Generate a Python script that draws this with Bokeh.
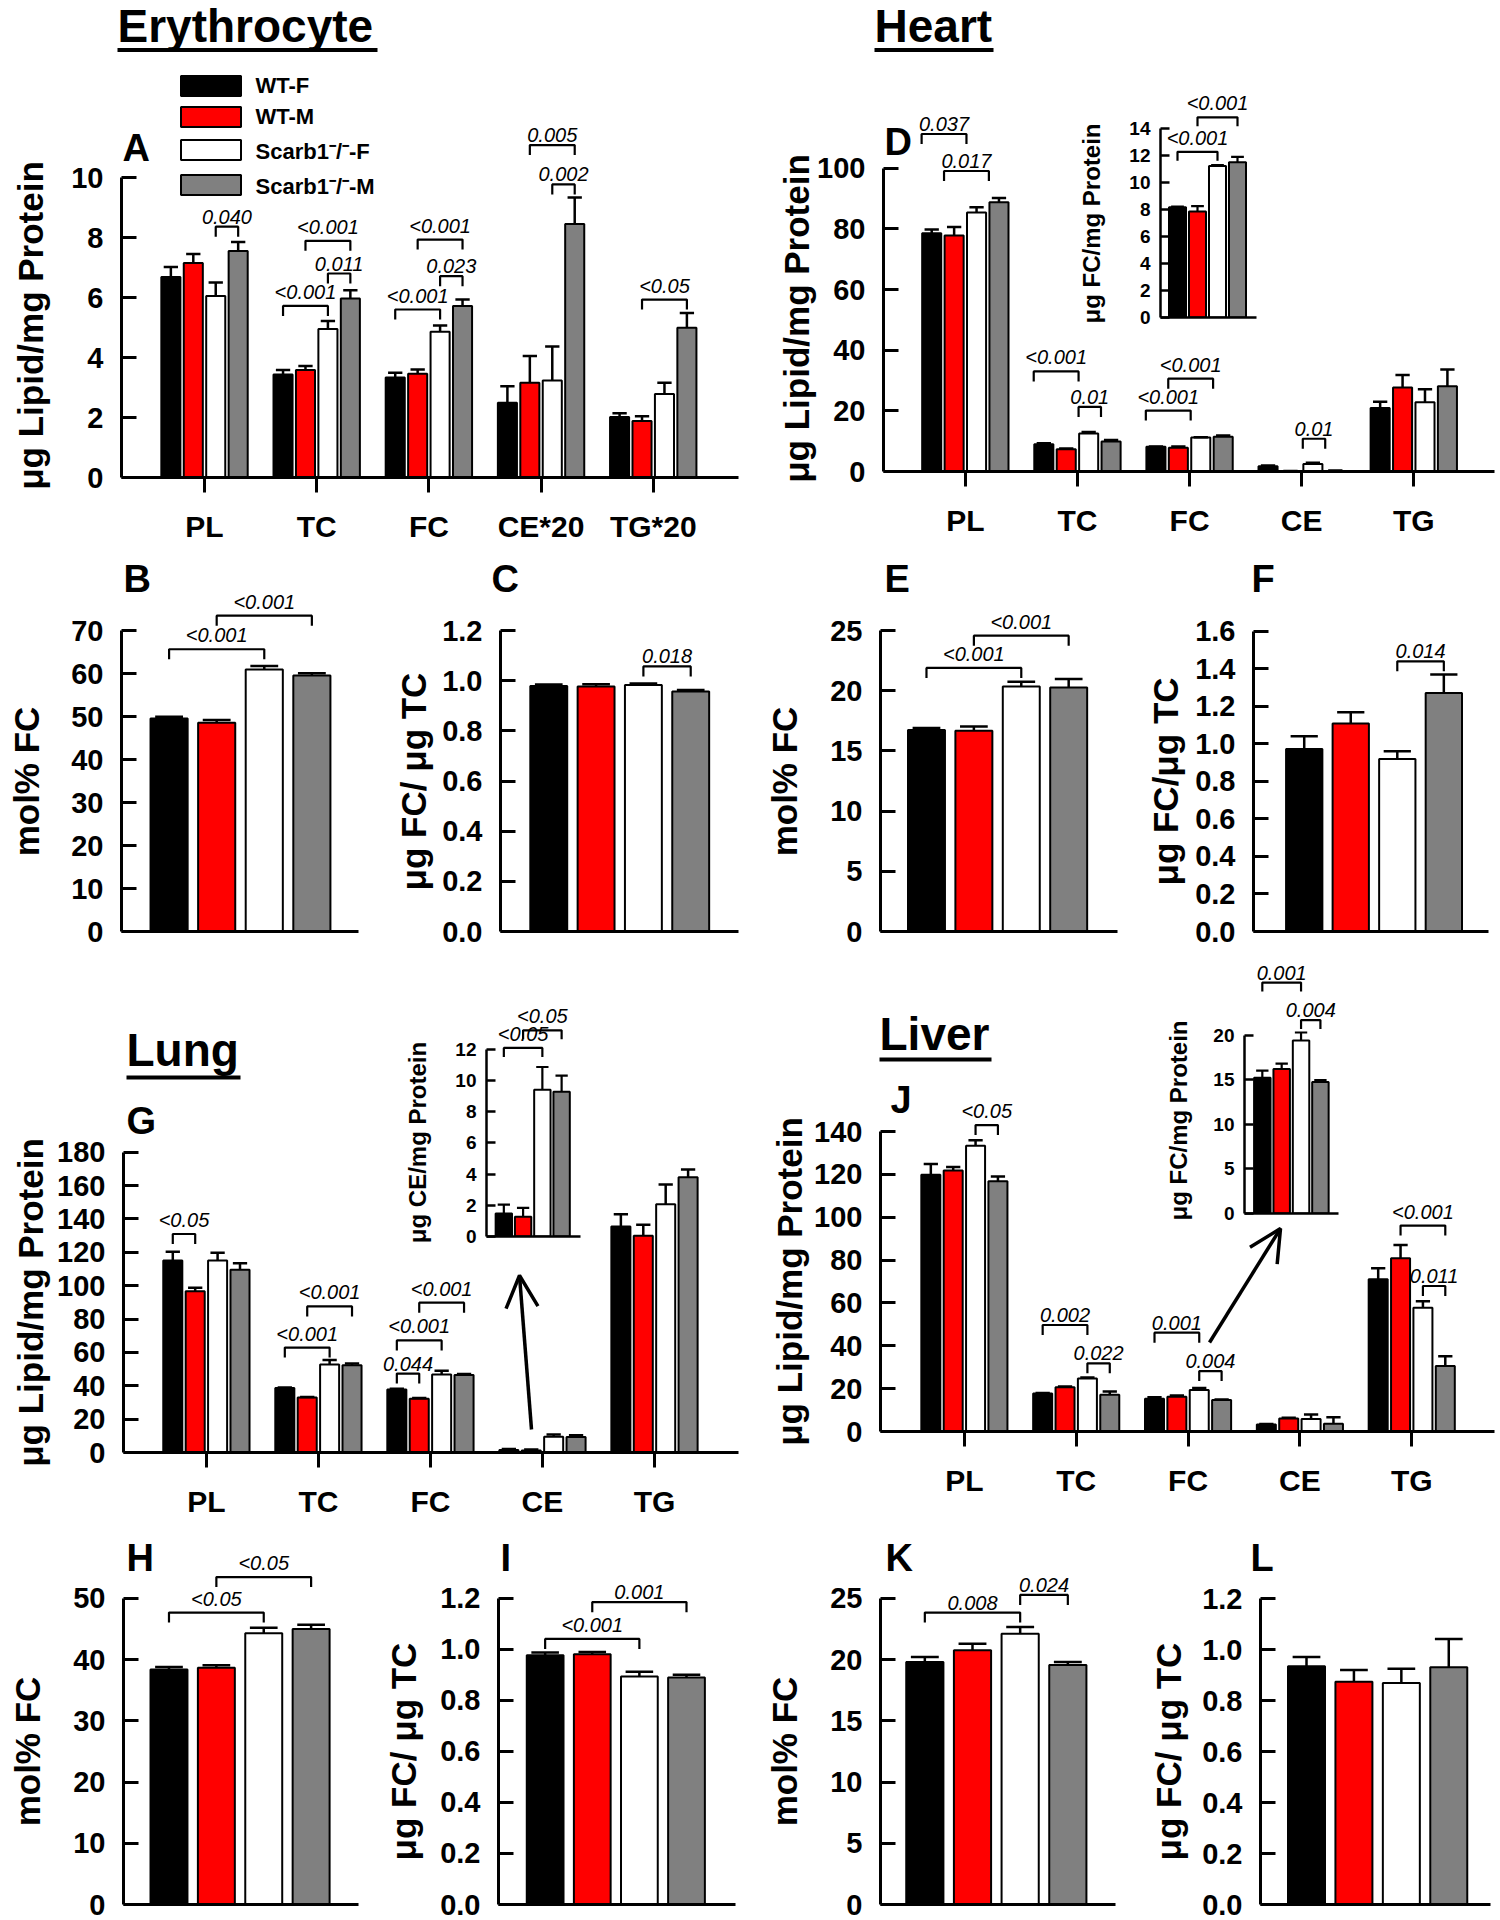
import math
from bokeh.plotting import figure
from bokeh.models import (ColumnDataSource, Range1d, FixedTicker, PrintfTickFormatter,
                          LabelSet, Arrow, OpenHead, Legend, LegendItem, Column)
from bokeh.embed import file_html
from bokeh.resources import INLINE
from bokeh.core.properties import value

FONT = "Liberation Sans"
GROUPS = ["WT-F", "WT-M", "Scarb1\u207b/\u207b-F", "Scarb1\u207b/\u207b-M"]
COLORS = ["#000000", "#ff0000", "#ffffff", "#808080"]

ERY_LIPIDS = ["PL", "TC", "FC", "CE*20", "TG*20"]
TISSUE_LIPIDS = ["PL", "TC", "FC", "CE", "TG"]

# ---------------- Erythrocyte ----------------
ery_mean = [[6.68, 7.15, 6.05, 7.55],
            [3.43, 3.58, 4.95, 5.97],
            [3.33, 3.46, 4.86, 5.72],
            [2.49, 3.16, 3.23, 8.45],
            [2.02, 1.88, 2.78, 4.99]]
ery_err = [[0.34, 0.30, 0.45, 0.30],
           [0.15, 0.14, 0.27, 0.27],
           [0.16, 0.14, 0.21, 0.21],
           [0.55, 0.89, 1.14, 0.88],
           [0.12, 0.16, 0.38, 0.49]]
ery_sig = [(0, 2, 3, 8.36, "0.040"),
           (1, 1, 3, 7.89, "<0.001"), (1, 2, 3, 6.80, "0.011"), (1, 0, 2, 5.72, "<0.001"),
           (2, 1, 3, 7.93, "<0.001"), (2, 2, 3, 6.71, "0.023"), (2, 0, 2, 5.60, "<0.001"),
           (3, 1, 3, 11.08, "0.005"), (3, 2, 3, 9.77, "0.002"),
           (4, 1, 3, 5.93, "<0.05")]
ery_molfc = [49.6, 48.6, 61.0, 59.6]
ery_molfc_err = [0.4, 0.6, 0.8, 0.5]
ery_molfc_sig = [(0, 0, 2, 65.7, "<0.001"), (0, 1, 3, 73.5, "<0.001")]
ery_ratio = [0.979, 0.977, 0.983, 0.957]
ery_ratio_err = [0.006, 0.009, 0.006, 0.006]
ery_ratio_sig = [(0, 2, 3, 1.057, "0.018")]

# ---------------- Heart ----------------
heart_mean = [[78.6, 77.8, 85.4, 88.8],
              [9.0, 7.3, 12.5, 9.9],
              [8.17, 7.85, 11.23, 11.5],
              [1.75, 0.1, 2.5, 0.2],
              [20.9, 27.7, 22.8, 28.1]]
heart_err = [[1.2, 2.8, 1.7, 1.4],
             [0.3, 0.3, 0.5, 0.5],
             [0.05, 0.4, 0.06, 0.4],
             [0.2, 0.1, 0.4, 0.1],
             [2.1, 4.1, 4.3, 5.5]]
heart_sig = [(0, 0, 2, 111.3, "0.037"), (0, 1, 3, 99.1, "0.017"),
             (1, 0, 2, 33.0, "<0.001"), (1, 2, 3, 21.3, "0.01"),
             (2, 1, 3, 30.6, "<0.001"), (2, 0, 2, 20.1, "<0.001"),
             (3, 2, 3, 10.8, "0.01")]
heart_fc = [8.17, 7.85, 11.23, 11.5]
heart_fc_err = [0.05, 0.4, 0.06, 0.4]
heart_fc_sig = [(0, 0, 2, 12.28, "<0.001"), (0, 1, 3, 14.84, "<0.001")]
heart_molfc = [16.75, 16.67, 20.36, 20.28]
heart_molfc_err = [0.15, 0.36, 0.39, 0.69]
heart_molfc_sig = [(0, 0, 2, 21.9, "<0.001"), (0, 1, 3, 24.58, "<0.001")]
heart_ratio = [0.972, 1.108, 0.919, 1.271]
heart_ratio_err = [0.068, 0.06, 0.041, 0.098]
heart_ratio_sig = [(0, 2, 3, 1.44, "0.014")]

# ---------------- Lung ----------------
lung_mean = [[115.1, 96.6, 115.1, 109.5],
             [38.7, 32.9, 52.8, 52.3],
             [37.8, 32.2, 46.8, 46.5],
             [1.47, 1.26, 9.39, 9.27],
             [135.5, 129.9, 148.8, 165.0]]
lung_err = [[5.2, 2.2, 4.7, 3.9],
            [0.3, 0.4, 2.6, 1.0],
            [0.4, 0.4, 2.2, 0.6],
            [0.57, 0.57, 1.46, 1.03],
            [7.3, 6.7, 11.9, 4.7]]
lung_sig = [(0, 0, 1, 131.0, "<0.05"),
            (1, 0, 2, 62.9, "<0.001"), (1, 1, 3, 87.6, "<0.001"),
            (2, 0, 1, 47.3, "0.044"), (2, 0, 2, 67.2, "<0.001"), (2, 1, 3, 89.8, "<0.001")]
lung_ce = [1.47, 1.26, 9.39, 9.27]
lung_ce_err = [0.57, 0.57, 1.46, 1.03]
lung_ce_sig = [(0, 0, 2, 12.07, "<0.05"), (0, 1, 3, 13.2, "<0.05")]
lung_molfc = [38.4, 38.7, 44.3, 45.0]
lung_molfc_err = [0.4, 0.4, 0.9, 0.7]
lung_molfc_sig = [(0, 0, 2, 47.7, "<0.05"), (0, 1, 3, 53.5, "<0.05")]
lung_ratio = [0.976, 0.980, 0.893, 0.889]
lung_ratio_err = [0.011, 0.009, 0.018, 0.011]
lung_ratio_sig = [(0, 0, 2, 1.04, "<0.001"), (0, 1, 3, 1.184, "0.001")]

# ---------------- Liver ----------------
liver_mean = [[119.8, 121.8, 133.4, 116.8],
              [17.7, 20.7, 24.7, 17.1],
              [15.23, 16.22, 19.4, 14.75],
              [3.3, 6.1, 5.8, 3.6],
              [71.1, 80.8, 57.7, 30.6]]
liver_err = [[5.0, 1.6, 2.5, 2.2],
             [0.3, 0.3, 0.5, 1.6],
             [0.8, 0.6, 0.9, 0.2],
             [0.2, 0.3, 2.15, 3.0],
             [5.1, 6.2, 3.1, 4.5]]
liver_sig = [(0, 2, 3, 143.0, "<0.05"),
             (1, 0, 2, 49.7, "0.002"), (1, 2, 3, 31.8, "0.022"),
             (2, 0, 2, 46.1, "0.001"), (2, 2, 3, 28.2, "0.004"),
             (4, 1, 3, 96.1, "<0.001"), (4, 2, 3, 67.9, "0.011")]
liver_fc = [15.23, 16.22, 19.4, 14.75]
liver_fc_err = [0.8, 0.6, 0.9, 0.2]
liver_fc_sig = [(0, 0, 2, 25.9, "0.001"), (0, 2, 3, 21.7, "0.004")]
liver_molfc = [19.8, 20.77, 22.1, 19.56]
liver_molfc_err = [0.4, 0.53, 0.55, 0.24]
liver_molfc_sig = [(0, 0, 2, 23.84, "0.008"), (0, 2, 3, 25.28, "0.024")]
liver_ratio = [0.935, 0.874, 0.869, 0.931]
liver_ratio_err = [0.036, 0.046, 0.056, 0.111]
liver_ratio_sig = []

# ---------------- free texts (panel titles, letters, y-axis titles) ----------------
LIPID_LABEL = "\u03bcg Lipid/mg Protein"
RATIO_LABEL = "\u03bcg FC/ \u03bcg TC"
TISSUE_TITLES = ["Erythrocyte", "Heart", "Lung", "Liver"]
PANEL_LETTERS = ["A", "B", "C", "D", "E", "F", "G", "H", "I", "J", "K", "L"]

GROUP_OFFS = [-0.3, -0.1, 0.1, 0.3]
SINGLE_OFFS = [0, 1, 2, 3]
PAGE_W, PAGE_H = 1496, 1916
figs = []


def build(fl, fr, xr, y0, tmax, tpx, yend, ml=130, mr=6, mt=20, mb=18, x_ext=0):
    ppu = (y0 - tpx) / tmax
    top = y0 - yend * ppu
    dx = (xr[1] - xr[0]) / (fr - fl)
    xr_frame = (xr[0], xr[1] + x_ext * dx)
    fw = int(round(fr + x_ext - fl))
    fh = int(round(y0 - top))
    p = figure(width=fw + ml + mr, height=fh + mt + mb,
               x_range=Range1d(*xr_frame), y_range=Range1d(0, yend),
               output_backend="svg", toolbar_location=None, frame_align=False,
               min_border_left=ml, min_border_right=mr,
               min_border_top=mt, min_border_bottom=mb,
               background_fill_color=None, border_fill_color=None,
               outline_line_color=None)
    p.styles = {"position": "absolute",
                "left": "%dpx" % (int(round(fl)) - ml),
                "top": "%dpx" % (int(round(top)) - mt)}
    p.xaxis[0].bounds = (xr[0], xr[1])
    figs.append(p)
    return p, ppu


def style_axes(p, ticks, fmt, cats=None, inset=False):
    p.grid.visible = False
    xa, ya = p.xaxis[0], p.yaxis[0]
    lw = 2.5 if inset else 3
    for ax in (xa, ya):
        ax.axis_line_width = lw
        ax.axis_line_color = "black"
        ax.major_tick_line_width = lw
        ax.major_tick_line_color = "black"
        ax.minor_tick_line_color = None
        ax.major_label_text_font = FONT
        ax.major_label_text_font_style = "bold"
        ax.major_label_text_color = "black"
    ya.ticker = FixedTicker(ticks=ticks)
    ya.bounds = (0, ticks[-1])
    ya.formatter = PrintfTickFormatter(format=fmt)
    ya.major_tick_in = 9 if inset else 15
    ya.major_tick_out = 0
    ya.major_label_text_font_size = "19px" if inset else "29px"
    ya.major_label_standoff = 10 if inset else 18
    if cats:
        xa.ticker = FixedTicker(ticks=list(range(len(cats))))
        xa.major_label_overrides = {i: c for i, c in enumerate(cats)}
        xa.major_tick_out = 15
        xa.major_tick_in = 0
        xa.major_label_text_font_size = "30px"
        xa.major_label_standoff = 17
    else:
        xa.ticker = FixedTicker(ticks=[])
        xa.major_tick_out = 0
        xa.major_tick_in = 0
        xa.major_label_standoff = 0
        xa.major_label_text_font_size = "1px"


def draw_bars(p, means, errs, offs, width, cap_frac=0.75, lw=2, elw=2.5):
    rends = []
    ncat = len(means)
    for g in range(4):
        xs = [c + offs[g] for c in range(ncat)]
        tops = [means[c][g] for c in range(ncat)]
        ups = [means[c][g] + errs[c][g] for c in range(ncat)]
        cw = width * cap_frac
        src = ColumnDataSource(dict(x=xs, top=tops, up=ups,
                                    xl=[x - cw / 2 for x in xs], xr=[x + cw / 2 for x in xs]))
        r = p.vbar(x="x", top="top", bottom=0, width=width, source=src,
                   fill_color=COLORS[g], line_color="black", line_width=lw)
        p.segment(x0="x", y0="top", x1="x", y1="up", source=src, line_color="black", line_width=elw)
        p.segment(x0="xl", y0="up", x1="xr", y1="up", source=src, line_color="black", line_width=elw)
        rends.append(r)
    return rends


def draw_sig(p, sig, offs, ppu, leg_px=10, gap_px=3, shift=0.0):
    if not sig:
        return
    xs, ys, tx, ty, tt = [], [], [], [], []
    leg = leg_px / ppu
    for (c, i, j, yt, lab) in sig:
        x1, x2 = c + offs[i] + shift, c + offs[j] + shift
        xs.append([x1, x1, x2, x2])
        ys.append([yt - leg, yt, yt, yt - leg])
        tx.append((x1 + x2) / 2)
        ty.append(yt + gap_px / ppu)
        tt.append(lab)
    p.multi_line(xs, ys, line_color="black", line_width=2.2)
    src = ColumnDataSource(dict(x=tx, y=ty, t=tt))
    p.add_layout(LabelSet(x="x", y="y", text="t", source=src, text_font=value(FONT),
                          text_font_style="italic", text_font_size="20px",
                          text_align="center", text_baseline="bottom", text_color="black"))


def grouped(geom, means, errs, sig, cats, ticks, sig_shift=0.0):
    p, u = build(*geom, mb=75, mr=4)
    style_axes(p, ticks, "%d", cats=cats)
    r = draw_bars(p, means, errs, GROUP_OFFS, 0.17)
    draw_sig(p, sig, GROUP_OFFS, u, shift=sig_shift)
    return p, r


def single(geom, vals, errs, sig, ticks, fmt, mr=6, mb=18):
    p, u = build(*geom, mr=mr, mb=mb)
    style_axes(p, ticks, fmt)
    draw_bars(p, [vals], [errs], SINGLE_OFFS, 0.78)
    draw_sig(p, sig, SINGLE_OFFS, u)
    return p


def inset(geom, vals, errs, sig, ticks):
    p, u = build(*geom, ml=100, mr=2, mb=14, x_ext=30)
    style_axes(p, ticks, "%d", inset=True)
    draw_bars(p, [vals], [errs], SINGLE_OFFS, 0.85, lw=2, elw=2.2)
    draw_sig(p, sig, SINGLE_OFFS, u, leg_px=9)
    return p


DEC = [0.0, 0.2, 0.4, 0.6, 0.8, 1.0, 1.2]

# ---- A ----
pA, rA = grouped((121, 738, (-0.74, 4.76), 477, 10, 177, 15.8),
                 ery_mean, ery_err, ery_sig, ERY_LIPIDS, [0, 2, 4, 6, 8, 10])
legend = Legend(items=[LegendItem(label=value(GROUPS[g]), renderers=[rA[g]]) for g in range(4)],
                location=(51.5, 277.5), glyph_width=75, glyph_height=25, label_height=25,
                label_standoff=8, spacing=5, padding=0, margin=0,
                border_line_color=None, background_fill_alpha=0,
                label_text_font=FONT, label_text_font_size="22px",
                label_text_font_style="bold", label_text_color="black")
pA.add_layout(legend)

# ---- B, C ----
single((121, 358.3, (-1.0, 3.98), 931, 70, 630.5, 81), ery_molfc, ery_molfc_err, ery_molfc_sig,
       list(range(0, 71, 10)), "%d")
single((500.2, 738, (-1.02, 4.01), 931, 1.2, 630.5, 1.22), ery_ratio, ery_ratio_err, ery_ratio_sig,
       DEC, "%.1f")

# ---- D (Heart) ----
grouped((883, 1494, (-0.73, 4.72), 471, 100, 168, 154), heart_mean, heart_err, heart_sig,
        TISSUE_LIPIDS, [0, 20, 40, 60, 80, 100], sig_shift=-0.09)
inset((1160, 1256, (-0.85, 3.95), 316.6, 14, 127.8, 16.9), heart_fc, heart_fc_err, heart_fc_sig,
      list(range(0, 15, 2)))

# ---- E, F ----
single((880.5, 1117.7, (-0.97, 4.03), 931, 25, 630.5, 27.5), heart_molfc, heart_molfc_err,
       heart_molfc_sig, [0, 5, 10, 15, 20, 25], "%d")
single((1253.2, 1488, (-1.09, 3.96), 931, 1.6, 630.5, 1.62), heart_ratio, heart_ratio_err,
       heart_ratio_sig, DEC + [1.4, 1.6], "%.1f", mr=4)

# ---- G (Lung) ----
grouped((123, 738, (-0.74, 4.75), 1452, 180, 1152, 256), lung_mean, lung_err,
        lung_sig, TISSUE_LIPIDS, list(range(0, 181, 20)))
inset((486, 580, (-0.9, 3.98), 1236.4, 12, 1048.8, 15.3), lung_ce, lung_ce_err, lung_ce_sig,
      list(range(0, 13, 2)))

# ---- H, I ----
single((123, 358, (-0.96, 4.0), 1904, 50, 1598, 58), lung_molfc, lung_molfc_err, lung_molfc_sig,
       [0, 10, 20, 30, 40, 50], "%d", mb=15)
single((497.8, 735, (-0.99, 4.04), 1904, 1.2, 1598, 1.3), lung_ratio, lung_ratio_err, lung_ratio_sig,
       DEC, "%.1f", mb=15)

# ---- J (Liver) ----
grouped((880.5, 1494, (-0.75, 4.74), 1431, 140, 1131, 196), liver_mean, liver_err,
        liver_sig, TISSUE_LIPIDS, list(range(0, 141, 20)))
inset((1243.5, 1338, (-0.92, 3.94), 1213, 20, 1034.6, 29.5), liver_fc, liver_fc_err, liver_fc_sig,
      [0, 5, 10, 15, 20])

# ---- K, L ----
single((880.5, 1115.3, (-0.93, 4.0), 1904, 25, 1598, 27.6), liver_molfc, liver_molfc_err,
       liver_molfc_sig, [0, 5, 10, 15, 20, 25], "%d", mb=15)
single((1260.5, 1490.4, (-0.97, 3.88), 1904, 1.2, 1598, 1.22), liver_ratio, liver_ratio_err,
       liver_ratio_sig, DEC, "%.1f", mr=4, mb=15)

# ---------------- overlay with the free texts, underlines and arrows ----------------
ov = figure(width=PAGE_W, height=PAGE_H, x_range=Range1d(0, PAGE_W), y_range=Range1d(0, PAGE_H),
            x_axis_type=None, y_axis_type=None, toolbar_location=None, output_backend="svg",
            frame_align=False, min_border=0, min_border_left=0, min_border_right=0,
            min_border_top=0, min_border_bottom=0, background_fill_color=None,
            border_fill_color=None, outline_line_color=None)
ov.grid.visible = False
ov.styles = {"position": "absolute", "left": "0px", "top": "0px"}


def Y(py):
    return PAGE_H - py


# tissue titles (baseline position) with underline
title_x = [117, 874, 126, 879]
title_base = [42, 42, 1066, 1050]
title_ul = [(117, 377, 49.5), (874, 993, 49.5), (126, 240, 1077), (879, 991, 1059)]
ov.text(x=title_x, y=[Y(b - 16.4) for b in title_base], text=TISSUE_TITLES,
        text_font=value(FONT), text_font_size="46px", text_font_style="bold",
        text_align="left", text_baseline="middle", text_color="black")
ov.segment(x0=[u[0] for u in title_ul], y0=[Y(u[2]) for u in title_ul],
           x1=[u[1] for u in title_ul], y1=[Y(u[2]) for u in title_ul],
           line_color="black", line_width=4)

# panel letters (baseline position)
letter_xy = [(122, 161), (123, 592), (491, 592), (884, 155), (884, 592), (1251, 592),
             (126, 1134), (126, 1571), (500, 1571), (890, 1113), (885, 1571), (1250, 1571)]
ov.text(x=[p[0] for p in letter_xy], y=[Y(p[1] - 13.6) for p in letter_xy], text=PANEL_LETTERS,
        text_font=value(FONT), text_font_size="38px", text_font_style="bold",
        text_align="left", text_baseline="middle", text_color="black")

# y-axis titles (centre positions)
ytitles = [LIPID_LABEL, "mol% FC", RATIO_LABEL, LIPID_LABEL, "mol% FC", "\u03bcg FC/\u03bcg TC",
           LIPID_LABEL, "mol% FC", RATIO_LABEL, LIPID_LABEL, "mol% FC", RATIO_LABEL]
ytitle_xy = [(30, 325), (26, 781), (413, 781), (796, 318), (784, 781), (1165, 781),
             (30, 1302), (27, 1751), (403, 1751), (789, 1281), (784, 1751), (1168, 1751)]
ov.text(x=[p[0] for p in ytitle_xy], y=[Y(p[1]) for p in ytitle_xy], text=ytitles,
        angle=math.pi / 2, text_font=value(FONT), text_font_size="35px", text_font_style="bold",
        text_align="center", text_baseline="middle", text_color="black")

inset_titles = ["\u03bcg FC/mg Protein", "\u03bcg CE/mg Protein", "\u03bcg FC/mg Protein"]
inset_xy = [(1091, 223), (417, 1142), (1178, 1120)]
ov.text(x=[p[0] for p in inset_xy], y=[Y(p[1]) for p in inset_xy], text=inset_titles,
        angle=math.pi / 2, text_font=value(FONT), text_font_size="24px", text_font_style="bold",
        text_align="center", text_baseline="middle", text_color="black")

# arrows pointing from the main panels to the insets
for tail, tip in [((531, 1429), (519, 1275)), ((1209, 1342), (1280, 1228))]:
    ov.add_layout(Arrow(end=OpenHead(size=32, line_width=3.5, line_color="black"),
                        x_start=tail[0], y_start=Y(tail[1]), x_end=tip[0], y_end=Y(tip[1]),
                        line_width=3.5, line_color="black"))
figs.append(ov)

root = Column(children=figs, width=PAGE_W, height=PAGE_H,
              styles={"position": "absolute", "left": "0px", "top": "0px", "overflow": "visible"})

open("out.html", "w").write(file_html(root, INLINE, "Scarb1 lipid panels"))
